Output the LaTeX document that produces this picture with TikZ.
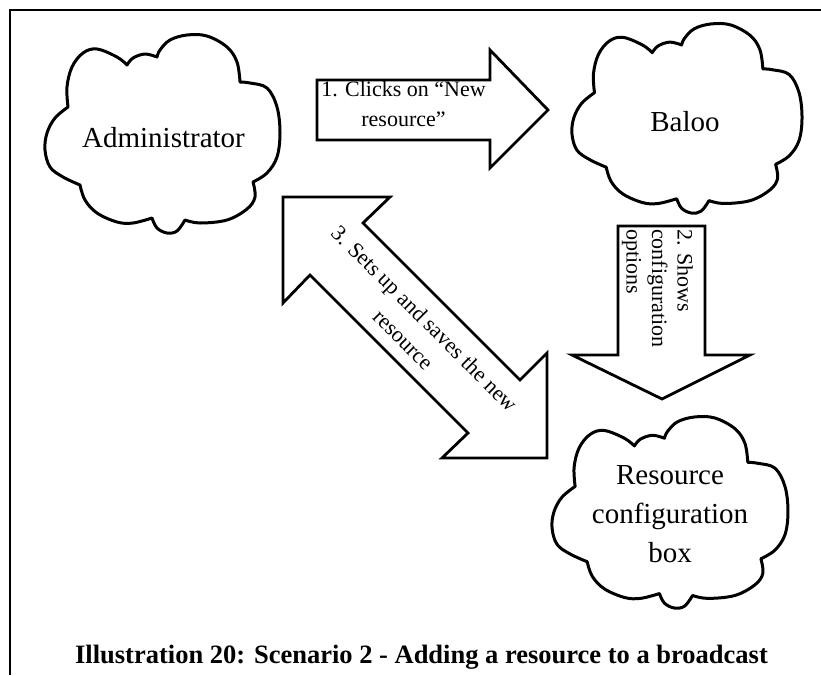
\documentclass[tikz,border=0pt]{standalone}
\usepackage{fontspec}
\setmainfont{Liberation Serif}
\begin{document}
\begin{tikzpicture}[x=1pt,y=-1pt,
  cloudline/.style={draw,line width=3pt,line join=round,fill=white},
  blockarrow/.style={draw,line width=2.8pt,line join=miter,fill=white},
  frameline/.style={line width=2pt},
  cloudtext/.style={font=\fontsize{29}{39}\selectfont,align=center,inner sep=0pt},
  arrowtext/.style={font=\fontsize{22}{30}\selectfont,inner sep=0pt},
  captiontext/.style={font=\fontsize{26.5}{30}\selectfont\bfseries,inner sep=0pt},
  pics/cloudshape/.style={code={
    \path[cloudline]
      plot[smooth,tension=0.6] coordinates {(-34.5,-69) (-44.5,-77) (-64.5,-85) (-78.5,-81) (-89.5,-67) (-94.5,-47) (-93.5,-27)}
      -- plot[smooth,tension=0.6] coordinates {(-93.5,-27) (-106.5,-16) (-114.5,-1) (-116.5,16) (-111.5,33) (-98.5,43) (-81.5,51)}
      -- plot[smooth,tension=0.6] coordinates {(-81.5,51) (-76.5,66) (-64.5,79) (-44.5,88) (-28.5,89) (-9.5,84)}
      -- plot[smooth,tension=0.6] coordinates {(-9.5,84) (-4.5,94) (5.5,99) (15.5,97) (23.5,86)}
      -- plot[smooth,tension=0.6] coordinates {(23.5,86) (38.5,89) (65.5,86) (85.5,75) (93.5,63) (91.5,48)}
      -- plot[smooth,tension=0.6] coordinates {(91.5,48) (105.5,39) (115.5,23) (118.5,-1) (115.5,-27) (105.5,-46) (88.5,-51) (78.5,-52)}
      -- plot[smooth,tension=0.6] coordinates {(78.5,-52) (75.5,-72) (65.5,-87) (45.5,-98) (25.5,-99) (8.5,-94) (-1.5,-84) (-4.5,-77)}
      -- plot[smooth,tension=0.6] coordinates {(-4.5,-77) (-16.5,-80) (-28.5,-76) (-34.5,-69)}
      -- cycle;
  }}]
\useasboundingbox (0,0) rectangle (821,675);
\fill[white] (0,0) rectangle (821,675);

% frame
\draw[frameline] (10,675) -- (10,10) -- (821,10);

% clouds
\pic at (161.5,134) {cloudshape};
\pic[xscale=0.979,yscale=0.955] at (686,118.5) {cloudshape};
\pic[xscale=1.004,yscale=0.965] at (669,512.5) {cloudshape};

\node[cloudtext] (adm) at (163.5,138) {Administrator};
\node[cloudtext] (baloo) at (685,122) {Baloo};
\node[cloudtext] (rcb) at (670,514) {Resource\\configuration\\box};

% arrow 1
\path[blockarrow] (317,80) -- (490,80) -- (490,50) -- (548,110) -- (490,168) -- (490,140) -- (317,140) -- cycle;
\node[arrowtext,align=center] (a1) at (403.5,104) {1. Clicks on “New\\resource”};

% arrow 2
\path[blockarrow] (618,226) -- (705,226) -- (705,355) -- (750,355) -- (662,399) -- (572,355) -- (618,355) -- cycle;
\node[arrowtext,font=\fontsize{22}{25.5}\selectfont,align=left,rotate=-90,anchor=north west] (a2) at (693,229) {2. Shows\\configuration\\options};

% arrow 3
\path[blockarrow] (283,197) -- (390,197) -- (363,223) -- (520,380) -- (547,353) -- (547,458) -- (442,458) -- (468,433) -- (310,275) -- (283,303) -- cycle;
\node[arrowtext,align=center,rotate=-45] (a3) at (414,329) {3. Sets up and saves the new\\resource};

% caption
\node[captiontext,anchor=base] (cap) at (421.5,663) {Illustration 20: Scenario 2 - Adding a resource to a broadcast};
\end{tikzpicture}
\end{document}
